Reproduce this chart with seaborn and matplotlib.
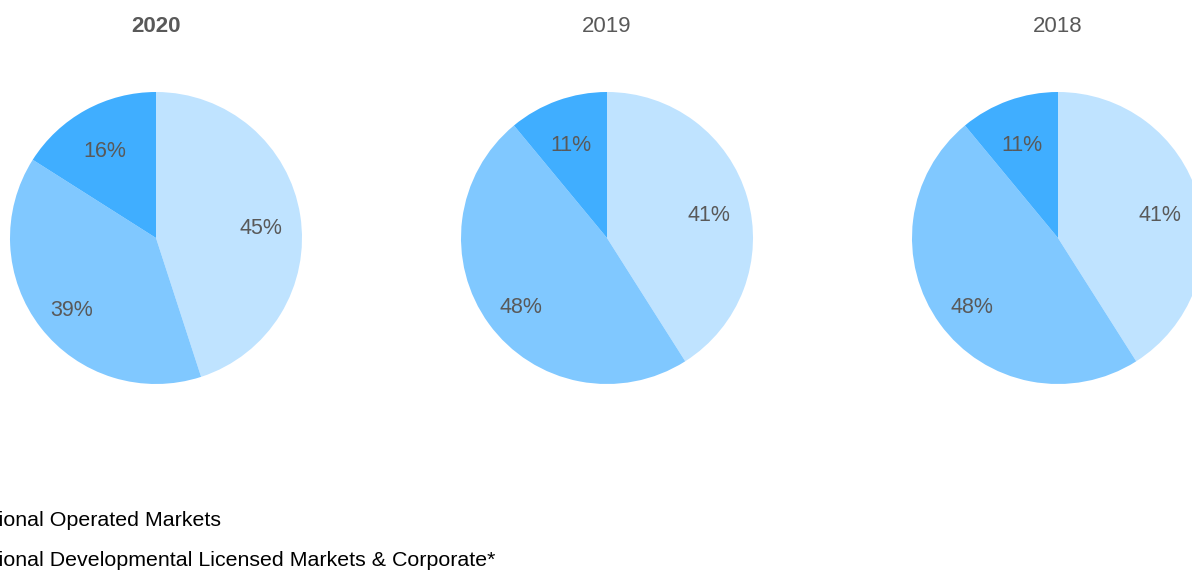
import matplotlib
matplotlib.use("Agg")
import matplotlib.pyplot as plt
import seaborn as sns

sns.set_theme(style="white")
plt.rcParams['font.family'] = ['Liberation Sans', 'DejaVu Sans']

years = ["2020", "2019", "2018"]
segments = ["U.S.", "International Operated Markets",
            "International Developmental Licensed Markets & Corporate*"]
values_2020 = [45, 39, 16]
values_2019 = [41, 48, 11]
values_2018 = [41, 48, 11]
all_values = [values_2020, values_2019, values_2018]
colors = ["#BFE3FF", "#80C8FF", "#40AEFF"]

W, H = 1192, 571
fig = plt.figure(figsize=(W / 100, H / 100), dpi=100)

centers_x = [156, 607, 1058]
cy = 238
R = 146
for i, (year, vals) in enumerate(zip(years, all_values)):
    cx = centers_x[i]
    ax = fig.add_axes([(cx - R) / W, (H - cy - R) / H, 2 * R / W, 2 * R / H])
    wedges, texts, autotexts = ax.pie(
        vals, colors=colors, startangle=90, counterclock=False,
        autopct=lambda p: f"{p:.0f}%", pctdistance=0.73,
        wedgeprops=dict(linewidth=0), radius=1.0,
        textprops=dict(color="#595959", fontsize=15.5))
    for t in autotexts:
        x, y = t.get_position()
        t.set_position((x, y - 0.05))
    ax.set_xlim(-1, 1)
    ax.set_ylim(-1, 1)
    ax.set_aspect("equal")
    ax.axis("off")
    fig.text(cx / W, 1 - 27 / H, year, ha="center", va="center",
             fontsize=16, color="#595959",
             fontweight="bold" if i == 0 else "normal")

# legend (partially cut off at left edge)
fig.canvas.draw()
renderer = fig.canvas.get_renderer()
leg_fs = 15.4
probe = fig.text(0, 0, "Internat", fontsize=leg_fs)
cut_w = probe.get_window_extent(renderer).width
probe.remove()
leg_y = [520, 561]
for j, lab in enumerate(segments[1:]):
    fig.text((-1.5 - cut_w) / W, 1 - leg_y[j] / H, lab, ha="left", va="center",
             fontsize=leg_fs, color="black")

fig.savefig("out.png", dpi=100)
